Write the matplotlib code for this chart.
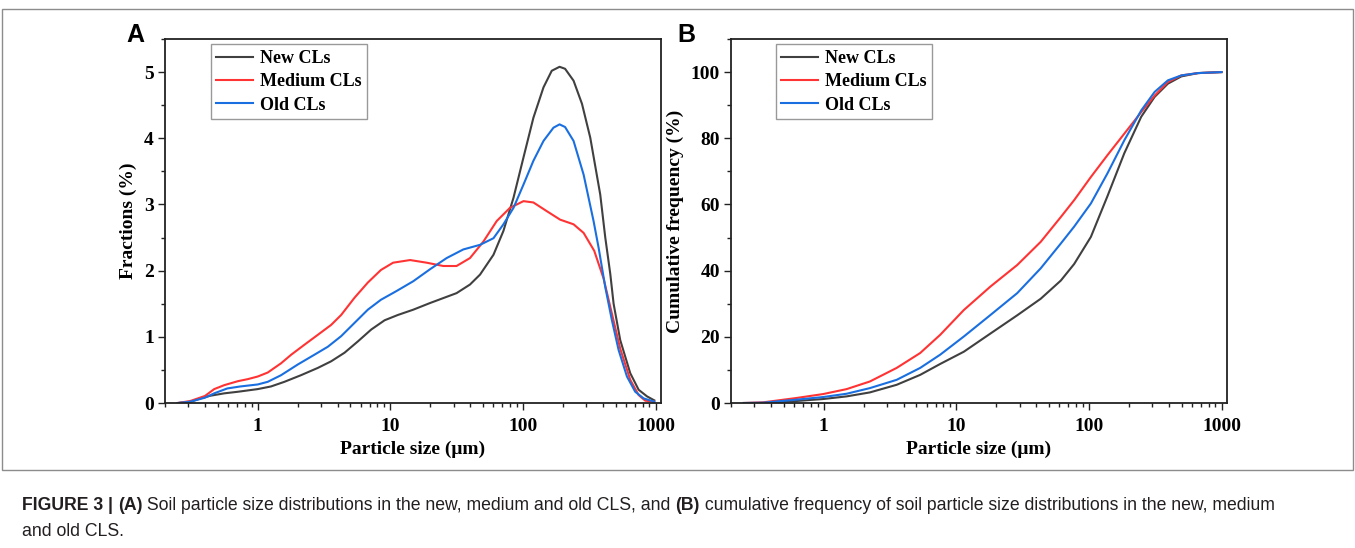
import matplotlib
matplotlib.use('Agg')
import matplotlib.pyplot as plt
from matplotlib import font_manager
from matplotlib.patches import Rectangle
from matplotlib.ticker import LogLocator, NullFormatter, MultipleLocator

# panel A: particle size distribution (fractions, %)
size_new = [0.25, 0.31, 0.37, 0.44, 0.56, 0.71, 1.0, 1.26, 1.59, 2.12, 2.84, 3.58, 4.52, 5.69,
            7.18, 9.06, 11.4, 14.9, 19.9, 31.6, 39.9, 47.5, 60, 71.3, 84.9, 101, 120, 143, 165,
            189, 208, 241, 279, 322, 383, 418, 456, 483, 542, 645, 746, 863, 979]
frac_new = [0, 0.015, 0.07, 0.11, 0.146, 0.17, 0.21, 0.25, 0.32, 0.42, 0.53, 0.63, 0.76, 0.93,
            1.11, 1.25, 1.33, 1.41, 1.51, 1.66, 1.79, 1.94, 2.24, 2.60, 3.10, 3.71, 4.31, 4.77, 5.02,
            5.08, 5.05, 4.87, 4.52, 4.01, 3.15, 2.5, 1.95, 1.5, 0.95, 0.45, 0.20, 0.10, 0.04]

size_med = [0.25, 0.31, 0.40, 0.47, 0.56, 0.71, 0.84, 1.0, 1.19, 1.5, 1.79, 2.25, 2.84, 3.58,
            4.26, 5.37, 6.77, 8.5, 10.5, 14.1, 18.8, 25.1, 31.6, 39.9, 50.4, 63.5, 80, 101, 120,
            151, 191, 241, 287, 345, 406, 469, 542, 645, 746, 837, 979]
frac_med = [0, 0.03, 0.106, 0.21, 0.27, 0.33, 0.36, 0.40, 0.46, 0.60, 0.73, 0.88, 1.03, 1.18,
            1.33, 1.59, 1.82, 2.01, 2.12, 2.16, 2.12, 2.07, 2.07, 2.19, 2.44, 2.75, 2.95, 3.05, 3.03,
            2.90, 2.77, 2.70, 2.57, 2.30, 1.88, 1.35, 0.82, 0.35, 0.12, 0.035, 0.02]

size_old = [0.25, 0.31, 0.40, 0.47, 0.59, 0.74, 1.0, 1.19, 1.5, 2.0, 2.68, 3.38, 4.26, 5.37,
            6.77, 8.5, 11.1, 14.9, 19.9, 26.6, 35.5, 47.5, 60, 71.3, 85, 101, 120, 143, 170, 189,
            208, 241, 287, 341, 372, 418, 469, 527, 609, 703, 813, 979]
frac_old = [0, 0.02, 0.08, 0.146, 0.22, 0.25, 0.28, 0.32, 0.42, 0.58, 0.73, 0.85, 1.01, 1.21,
            1.41, 1.56, 1.69, 1.84, 2.02, 2.19, 2.32, 2.39, 2.49, 2.70, 2.95, 3.30, 3.66, 3.96, 4.16, 4.21,
            4.17, 3.96, 3.45, 2.75, 2.35, 1.75, 1.25, 0.80, 0.40, 0.17, 0.07, 0.02]

# panel B: cumulative frequency (%)
size_cum = [0.25, 0.35, 0.62, 0.99, 1.49, 2.23, 3.55, 5.34, 7.56, 11.4, 18.1, 28.8, 43.3,
            61.4, 77.4, 103.5, 138, 185, 248, 313, 394, 498, 665, 1000]
cum_new = [0, 0, 0.6, 1.2, 2.0, 3.2, 5.5, 8.5, 11.8, 15.5, 21, 26.5, 31.5,
           37, 42, 50.2, 62.5, 75.5, 86.5, 92.5, 96.5, 98.7, 99.7, 100]
cum_med = [0, 0.2, 1.5, 2.7, 4.2, 6.5, 10.6, 15.1, 20.6, 28.1, 35.2, 41.7, 48.7,
           56.2, 61.3, 68.3, 74.9, 81.4, 87.9, 92.9, 97.0, 99.0, 99.7, 100]
cum_old = [0, 0.1, 1.0, 1.8, 2.8, 4.5, 7.0, 10.6, 14.6, 20.1, 26.6, 33.2, 40.7,
           48.2, 53.3, 60.3, 69.4, 79.4, 88.4, 94.0, 97.5, 99.0, 99.7, 100]

series_names = ['New CLs', 'Medium CLs', 'Old CLs']
colors = ['#404040', '#ff3333', '#1a6fe0']
xticks = [1, 10, 100, 1000]
xtick_labels = ['1', '10', '100', '1000']

plt.rcParams['font.family'] = 'Liberation Serif'
plt.rcParams['font.weight'] = 'bold'
plt.rcParams['axes.labelweight'] = 'bold'

W, H = 1355, 548
fig = plt.figure(figsize=(W / 100, H / 100), dpi=100)

# grey frame round the figure area
fig.patches.append(Rectangle((2 / W, 1 - 470 / H), 1351 / W, 461 / H, transform=fig.transFigure,
                             fill=False, edgecolor='#8c8c8c', linewidth=1.0))


def style_axes(ax, ylab, ymax, ymajor, yminor):
    ax.set_xscale('log')
    ax.set_xlim(0.2, 1100)
    ax.set_ylim(0, ymax)
    ax.set_xticks(xticks)
    ax.set_xticklabels(xtick_labels)
    ax.xaxis.set_minor_locator(LogLocator(base=10, subs=range(2, 10), numticks=20))
    ax.xaxis.set_minor_formatter(NullFormatter())
    ax.yaxis.set_major_locator(MultipleLocator(ymajor))
    ax.yaxis.set_minor_locator(MultipleLocator(yminor))
    ax.tick_params(which='both', direction='out', top=False, right=False, width=1.0,
                   labelsize=14, color='#222222')
    ax.tick_params(which='major', length=5)
    ax.tick_params(which='minor', length=3)
    ax.tick_params(axis='x', pad=6)
    ax.tick_params(axis='y', pad=3)
    for s in ax.spines.values():
        s.set_linewidth(1.3)
        s.set_color('#222222')
    ax.set_xlabel('Particle size (μm)', fontsize=14, labelpad=4)
    ax.set_ylabel(ylab, fontsize=14, labelpad=5)
    for lab in ax.get_xticklabels() + ax.get_yticklabels():
        lab.set_fontweight('bold')


def add_legend(ax, x0):
    leg = ax.legend(loc='upper left', bbox_to_anchor=(x0, 0.985), borderaxespad=0,
                    fancybox=False, edgecolor='#999999', framealpha=1, fontsize=13,
                    handlelength=2.0, handletextpad=0.4, labelspacing=0.35, borderpad=0.3)
    leg.get_frame().set_linewidth(1.0)
    for t in leg.get_texts():
        t.set_fontweight('bold')


axA = fig.add_axes([165 / W, 1 - 403 / H, 496 / W, 364 / H])
axA.plot(size_new, frac_new, color=colors[0], lw=1.5, label=series_names[0])
axA.plot(size_med, frac_med, color=colors[1], lw=1.5, label=series_names[1])
axA.plot(size_old, frac_old, color=colors[2], lw=1.5, label=series_names[2])
style_axes(axA, 'Fractions (%)', 5.5, 1, 0.5)
add_legend(axA, (211 - 165) / 496)

axB = fig.add_axes([731 / W, 1 - 403 / H, 496 / W, 364 / H])
axB.plot(size_cum, cum_new, color=colors[0], lw=1.5, label=series_names[0])
axB.plot(size_cum, cum_med, color=colors[1], lw=1.5, label=series_names[1])
axB.plot(size_cum, cum_old, color=colors[2], lw=1.5, label=series_names[2])
style_axes(axB, 'Cumulative frequency (%)', 110, 20, 10)
add_legend(axB, (776 - 731) / 496)

fig.text(135 / W, 1 - 35 / H, 'A', family='Liberation Sans', fontweight='bold', fontsize=18,
         ha='center', va='center')
fig.text(686 / W, 1 - 35 / H, 'B', family='Liberation Sans', fontweight='bold', fontsize=18,
         ha='center', va='center')

# caption, drawn piece by piece so bold parts can sit inline
names = {f.name for f in font_manager.fontManager.ttflist}
cap_font = 'Liberation Sans Narrow' if 'Liberation Sans Narrow' in names else 'Liberation Sans'
line1 = [('FIGURE 3 | ', True), ('(A)', True),
         (' Soil particle size distributions in the new, medium and old CLS, and ', False),
         ('(B)', True),
         (' cumulative frequency of soil particle size distributions in the new, medium', False)]
line2 = [('and old CLS.', False)]
renderer = fig.canvas.get_renderer()


def draw_line(parts, x, y, size):
    items = []
    for txt, bold in parts:
        t = fig.text(x / W, 1 - y / H, txt, family=cap_font, fontsize=size,
                     fontweight='bold' if bold else 'normal', color='#231f20', va='center')
        x += t.get_window_extent(renderer=renderer).width
        items.append(t)
    return x, items


cap_size = 12
end, items = draw_line(line1, 22, 505, cap_size)
for t in items:
    t.remove()
cap_size = cap_size * (1280 - 22) / (end - 22)
draw_line(line1, 22, 505, cap_size)
draw_line(line2, 22, 531, cap_size)

fig.savefig('out.png', dpi=100)
